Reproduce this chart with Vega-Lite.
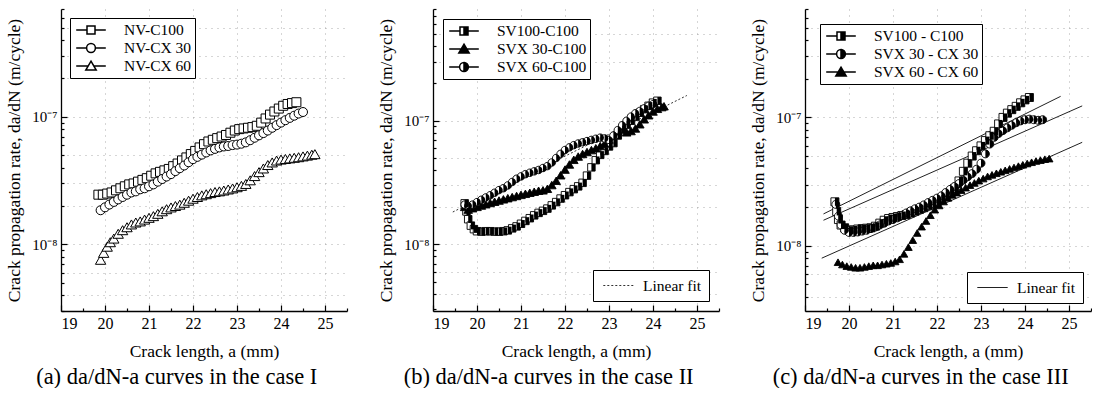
{
"$schema":"https://vega.github.io/schema/vega-lite/v6.json",
"background":"white",
"padding":{"left":5,"top":8,"right":0,"bottom":0},
"spacing":29,
"datasets":{
"a":[
{"s":"NV-C100","x":19.85,"y":2.45e-8},{"s":"NV-C100","x":19.95,"y":2.45e-8},{"s":"NV-C100","x":20.05,"y":2.5e-8},{"s":"NV-C100","x":20.15,"y":2.55e-8},{"s":"NV-C100","x":20.25,"y":2.65e-8},{"s":"NV-C100","x":20.35,"y":2.75e-8},{"s":"NV-C100","x":20.45,"y":2.85e-8},{"s":"NV-C100","x":20.55,"y":2.95e-8},{"s":"NV-C100","x":20.65,"y":3.0e-8},{"s":"NV-C100","x":20.75,"y":3.1e-8},{"s":"NV-C100","x":20.85,"y":3.2e-8},{"s":"NV-C100","x":20.95,"y":3.3e-8},{"s":"NV-C100","x":21.05,"y":3.45e-8},{"s":"NV-C100","x":21.15,"y":3.6e-8},{"s":"NV-C100","x":21.25,"y":3.7e-8},{"s":"NV-C100","x":21.35,"y":3.8e-8},{"s":"NV-C100","x":21.45,"y":3.9e-8},{"s":"NV-C100","x":21.55,"y":4.1e-8},{"s":"NV-C100","x":21.65,"y":4.3e-8},{"s":"NV-C100","x":21.75,"y":4.55e-8},{"s":"NV-C100","x":21.85,"y":4.8e-8},{"s":"NV-C100","x":21.95,"y":5.1e-8},{"s":"NV-C100","x":22.05,"y":5.4e-8},{"s":"NV-C100","x":22.15,"y":5.75e-8},{"s":"NV-C100","x":22.25,"y":6.1e-8},{"s":"NV-C100","x":22.35,"y":6.4e-8},{"s":"NV-C100","x":22.45,"y":6.6e-8},{"s":"NV-C100","x":22.55,"y":6.8e-8},{"s":"NV-C100","x":22.65,"y":7.0e-8},{"s":"NV-C100","x":22.75,"y":7.2e-8},{"s":"NV-C100","x":22.85,"y":7.5e-8},{"s":"NV-C100","x":22.95,"y":7.8e-8},{"s":"NV-C100","x":23.05,"y":8.0e-8},{"s":"NV-C100","x":23.15,"y":8.1e-8},{"s":"NV-C100","x":23.25,"y":8.2e-8},{"s":"NV-C100","x":23.35,"y":8.3e-8},{"s":"NV-C100","x":23.45,"y":8.5e-8},{"s":"NV-C100","x":23.55,"y":9.0e-8},{"s":"NV-C100","x":23.65,"y":9.7e-8},{"s":"NV-C100","x":23.75,"y":1.04e-7},{"s":"NV-C100","x":23.85,"y":1.1e-7},{"s":"NV-C100","x":23.95,"y":1.16e-7},{"s":"NV-C100","x":24.05,"y":1.22e-7},{"s":"NV-C100","x":24.15,"y":1.26e-7},{"s":"NV-C100","x":24.25,"y":1.28e-7},{"s":"NV-C100","x":24.35,"y":1.3e-7},
{"s":"NV-CX 30","x":19.9,"y":1.85e-8},{"s":"NV-CX 30","x":20.0,"y":1.95e-8},{"s":"NV-CX 30","x":20.1,"y":2.05e-8},{"s":"NV-CX 30","x":20.2,"y":2.15e-8},{"s":"NV-CX 30","x":20.3,"y":2.25e-8},{"s":"NV-CX 30","x":20.4,"y":2.35e-8},{"s":"NV-CX 30","x":20.5,"y":2.45e-8},{"s":"NV-CX 30","x":20.6,"y":2.55e-8},{"s":"NV-CX 30","x":20.7,"y":2.6e-8},{"s":"NV-CX 30","x":20.8,"y":2.7e-8},{"s":"NV-CX 30","x":20.9,"y":2.75e-8},{"s":"NV-CX 30","x":21.0,"y":2.85e-8},{"s":"NV-CX 30","x":21.1,"y":2.95e-8},{"s":"NV-CX 30","x":21.2,"y":3.1e-8},{"s":"NV-CX 30","x":21.3,"y":3.25e-8},{"s":"NV-CX 30","x":21.4,"y":3.4e-8},{"s":"NV-CX 30","x":21.5,"y":3.55e-8},{"s":"NV-CX 30","x":21.6,"y":3.75e-8},{"s":"NV-CX 30","x":21.7,"y":3.95e-8},{"s":"NV-CX 30","x":21.8,"y":4.15e-8},{"s":"NV-CX 30","x":21.9,"y":4.4e-8},{"s":"NV-CX 30","x":22.0,"y":4.65e-8},{"s":"NV-CX 30","x":22.1,"y":4.85e-8},{"s":"NV-CX 30","x":22.2,"y":5.05e-8},{"s":"NV-CX 30","x":22.3,"y":5.25e-8},{"s":"NV-CX 30","x":22.4,"y":5.45e-8},{"s":"NV-CX 30","x":22.5,"y":5.6e-8},{"s":"NV-CX 30","x":22.6,"y":5.75e-8},{"s":"NV-CX 30","x":22.7,"y":5.85e-8},{"s":"NV-CX 30","x":22.8,"y":5.9e-8},{"s":"NV-CX 30","x":22.9,"y":6.0e-8},{"s":"NV-CX 30","x":23.0,"y":6.05e-8},{"s":"NV-CX 30","x":23.1,"y":6.15e-8},{"s":"NV-CX 30","x":23.2,"y":6.3e-8},{"s":"NV-CX 30","x":23.3,"y":6.55e-8},{"s":"NV-CX 30","x":23.4,"y":6.85e-8},{"s":"NV-CX 30","x":23.5,"y":7.15e-8},{"s":"NV-CX 30","x":23.6,"y":7.45e-8},{"s":"NV-CX 30","x":23.7,"y":7.8e-8},{"s":"NV-CX 30","x":23.8,"y":8.2e-8},{"s":"NV-CX 30","x":23.9,"y":8.6e-8},{"s":"NV-CX 30","x":24.0,"y":9.0e-8},{"s":"NV-CX 30","x":24.1,"y":9.4e-8},{"s":"NV-CX 30","x":24.2,"y":9.8e-8},{"s":"NV-CX 30","x":24.3,"y":1.02e-7},{"s":"NV-CX 30","x":24.4,"y":1.06e-7},{"s":"NV-CX 30","x":24.5,"y":1.09e-7},
{"s":"NV-CX 60","x":19.9,"y":7.5e-9},{"s":"NV-CX 60","x":19.97,"y":8.5e-9},{"s":"NV-CX 60","x":20.05,"y":9.5e-9},{"s":"NV-CX 60","x":20.12,"y":1.03e-8},{"s":"NV-CX 60","x":20.2,"y":1.1e-8},{"s":"NV-CX 60","x":20.3,"y":1.2e-8},{"s":"NV-CX 60","x":20.4,"y":1.28e-8},{"s":"NV-CX 60","x":20.5,"y":1.35e-8},{"s":"NV-CX 60","x":20.6,"y":1.42e-8},{"s":"NV-CX 60","x":20.7,"y":1.47e-8},{"s":"NV-CX 60","x":20.8,"y":1.5e-8},{"s":"NV-CX 60","x":20.9,"y":1.55e-8},{"s":"NV-CX 60","x":21.0,"y":1.6e-8},{"s":"NV-CX 60","x":21.1,"y":1.65e-8},{"s":"NV-CX 60","x":21.2,"y":1.72e-8},{"s":"NV-CX 60","x":21.3,"y":1.8e-8},{"s":"NV-CX 60","x":21.4,"y":1.87e-8},{"s":"NV-CX 60","x":21.5,"y":1.93e-8},{"s":"NV-CX 60","x":21.6,"y":1.98e-8},{"s":"NV-CX 60","x":21.7,"y":2.03e-8},{"s":"NV-CX 60","x":21.8,"y":2.1e-8},{"s":"NV-CX 60","x":21.9,"y":2.18e-8},{"s":"NV-CX 60","x":22.0,"y":2.26e-8},{"s":"NV-CX 60","x":22.1,"y":2.33e-8},{"s":"NV-CX 60","x":22.2,"y":2.4e-8},{"s":"NV-CX 60","x":22.3,"y":2.45e-8},{"s":"NV-CX 60","x":22.4,"y":2.5e-8},{"s":"NV-CX 60","x":22.5,"y":2.55e-8},{"s":"NV-CX 60","x":22.6,"y":2.58e-8},{"s":"NV-CX 60","x":22.7,"y":2.62e-8},{"s":"NV-CX 60","x":22.8,"y":2.67e-8},{"s":"NV-CX 60","x":22.9,"y":2.72e-8},{"s":"NV-CX 60","x":23.0,"y":2.78e-8},{"s":"NV-CX 60","x":23.1,"y":2.85e-8},{"s":"NV-CX 60","x":23.2,"y":2.95e-8},{"s":"NV-CX 60","x":23.3,"y":3.15e-8},{"s":"NV-CX 60","x":23.4,"y":3.4e-8},{"s":"NV-CX 60","x":23.5,"y":3.65e-8},{"s":"NV-CX 60","x":23.6,"y":3.9e-8},{"s":"NV-CX 60","x":23.7,"y":4.15e-8},{"s":"NV-CX 60","x":23.8,"y":4.35e-8},{"s":"NV-CX 60","x":23.9,"y":4.5e-8},{"s":"NV-CX 60","x":24.0,"y":4.58e-8},{"s":"NV-CX 60","x":24.1,"y":4.63e-8},{"s":"NV-CX 60","x":24.2,"y":4.68e-8},{"s":"NV-CX 60","x":24.3,"y":4.73e-8},{"s":"NV-CX 60","x":24.4,"y":4.78e-8},{"s":"NV-CX 60","x":24.5,"y":4.85e-8},{"s":"NV-CX 60","x":24.6,"y":4.92e-8},{"s":"NV-CX 60","x":24.7,"y":5.0e-8},{"s":"NV-CX 60","x":24.77,"y":5.05e-8}
],
"b":[
{"s":"SV100-C100","x":19.72,"y":2.15e-8},{"s":"SV100-C100","x":19.76,"y":1.85e-8},{"s":"SV100-C100","x":19.8,"y":1.6e-8},{"s":"SV100-C100","x":19.86,"y":1.42e-8},{"s":"SV100-C100","x":19.93,"y":1.33e-8},{"s":"SV100-C100","x":20.0,"y":1.28e-8},{"s":"SV100-C100","x":20.1,"y":1.27e-8},{"s":"SV100-C100","x":20.2,"y":1.28e-8},{"s":"SV100-C100","x":20.3,"y":1.28e-8},{"s":"SV100-C100","x":20.4,"y":1.27e-8},{"s":"SV100-C100","x":20.5,"y":1.27e-8},{"s":"SV100-C100","x":20.6,"y":1.28e-8},{"s":"SV100-C100","x":20.7,"y":1.3e-8},{"s":"SV100-C100","x":20.8,"y":1.35e-8},{"s":"SV100-C100","x":20.9,"y":1.4e-8},{"s":"SV100-C100","x":21.0,"y":1.47e-8},{"s":"SV100-C100","x":21.1,"y":1.55e-8},{"s":"SV100-C100","x":21.2,"y":1.63e-8},{"s":"SV100-C100","x":21.3,"y":1.72e-8},{"s":"SV100-C100","x":21.4,"y":1.8e-8},{"s":"SV100-C100","x":21.5,"y":1.87e-8},{"s":"SV100-C100","x":21.6,"y":1.95e-8},{"s":"SV100-C100","x":21.7,"y":2.07e-8},{"s":"SV100-C100","x":21.8,"y":2.2e-8},{"s":"SV100-C100","x":21.9,"y":2.35e-8},{"s":"SV100-C100","x":22.0,"y":2.5e-8},{"s":"SV100-C100","x":22.1,"y":2.65e-8},{"s":"SV100-C100","x":22.2,"y":2.8e-8},{"s":"SV100-C100","x":22.3,"y":2.95e-8},{"s":"SV100-C100","x":22.4,"y":3.15e-8},{"s":"SV100-C100","x":22.5,"y":3.6e-8},{"s":"SV100-C100","x":22.6,"y":4.2e-8},{"s":"SV100-C100","x":22.7,"y":4.8e-8},{"s":"SV100-C100","x":22.8,"y":5.3e-8},{"s":"SV100-C100","x":22.9,"y":5.7e-8},{"s":"SV100-C100","x":23.0,"y":6.2e-8},{"s":"SV100-C100","x":23.1,"y":6.6e-8},{"s":"SV100-C100","x":23.2,"y":7.6e-8},{"s":"SV100-C100","x":23.3,"y":8.5e-8},{"s":"SV100-C100","x":23.4,"y":9.3e-8},{"s":"SV100-C100","x":23.5,"y":1.0e-7},{"s":"SV100-C100","x":23.6,"y":1.08e-7},{"s":"SV100-C100","x":23.7,"y":1.16e-7},{"s":"SV100-C100","x":23.8,"y":1.24e-7},{"s":"SV100-C100","x":23.9,"y":1.32e-7},{"s":"SV100-C100","x":24.0,"y":1.4e-7},{"s":"SV100-C100","x":24.1,"y":1.45e-7},
{"s":"SVX 30-C100","x":19.72,"y":2.0e-8},{"s":"SVX 30-C100","x":19.8,"y":1.9e-8},{"s":"SVX 30-C100","x":19.9,"y":1.95e-8},{"s":"SVX 30-C100","x":20.0,"y":2.0e-8},{"s":"SVX 30-C100","x":20.1,"y":2.05e-8},{"s":"SVX 30-C100","x":20.2,"y":2.1e-8},{"s":"SVX 30-C100","x":20.3,"y":2.15e-8},{"s":"SVX 30-C100","x":20.4,"y":2.2e-8},{"s":"SVX 30-C100","x":20.5,"y":2.25e-8},{"s":"SVX 30-C100","x":20.6,"y":2.3e-8},{"s":"SVX 30-C100","x":20.7,"y":2.35e-8},{"s":"SVX 30-C100","x":20.8,"y":2.4e-8},{"s":"SVX 30-C100","x":20.9,"y":2.45e-8},{"s":"SVX 30-C100","x":21.0,"y":2.5e-8},{"s":"SVX 30-C100","x":21.1,"y":2.55e-8},{"s":"SVX 30-C100","x":21.2,"y":2.6e-8},{"s":"SVX 30-C100","x":21.3,"y":2.65e-8},{"s":"SVX 30-C100","x":21.4,"y":2.7e-8},{"s":"SVX 30-C100","x":21.5,"y":2.72e-8},{"s":"SVX 30-C100","x":21.6,"y":2.8e-8},{"s":"SVX 30-C100","x":21.7,"y":3.0e-8},{"s":"SVX 30-C100","x":21.8,"y":3.25e-8},{"s":"SVX 30-C100","x":21.9,"y":3.6e-8},{"s":"SVX 30-C100","x":22.0,"y":4.0e-8},{"s":"SVX 30-C100","x":22.1,"y":4.4e-8},{"s":"SVX 30-C100","x":22.2,"y":4.8e-8},{"s":"SVX 30-C100","x":22.3,"y":5.1e-8},{"s":"SVX 30-C100","x":22.4,"y":5.35e-8},{"s":"SVX 30-C100","x":22.5,"y":5.55e-8},{"s":"SVX 30-C100","x":22.6,"y":5.75e-8},{"s":"SVX 30-C100","x":22.7,"y":5.95e-8},{"s":"SVX 30-C100","x":22.8,"y":6.2e-8},{"s":"SVX 30-C100","x":22.9,"y":6.5e-8},{"s":"SVX 30-C100","x":23.0,"y":7.0e-8},{"s":"SVX 30-C100","x":23.1,"y":7.6e-8},{"s":"SVX 30-C100","x":23.2,"y":8.2e-8},{"s":"SVX 30-C100","x":23.3,"y":8.5e-8},{"s":"SVX 30-C100","x":23.4,"y":8.0e-8},{"s":"SVX 30-C100","x":23.5,"y":8.2e-8},{"s":"SVX 30-C100","x":23.6,"y":8.6e-8},{"s":"SVX 30-C100","x":23.7,"y":9.3e-8},{"s":"SVX 30-C100","x":23.8,"y":1.02e-7},{"s":"SVX 30-C100","x":23.9,"y":1.1e-7},{"s":"SVX 30-C100","x":24.0,"y":1.18e-7},{"s":"SVX 30-C100","x":24.1,"y":1.24e-7},{"s":"SVX 30-C100","x":24.2,"y":1.28e-7},{"s":"SVX 30-C100","x":24.25,"y":1.3e-7},
{"s":"SVX 60-C100","x":19.72,"y":2.1e-8},{"s":"SVX 60-C100","x":19.8,"y":2.05e-8},{"s":"SVX 60-C100","x":19.9,"y":2.1e-8},{"s":"SVX 60-C100","x":20.0,"y":2.2e-8},{"s":"SVX 60-C100","x":20.1,"y":2.3e-8},{"s":"SVX 60-C100","x":20.2,"y":2.4e-8},{"s":"SVX 60-C100","x":20.3,"y":2.5e-8},{"s":"SVX 60-C100","x":20.4,"y":2.62e-8},{"s":"SVX 60-C100","x":20.5,"y":2.75e-8},{"s":"SVX 60-C100","x":20.6,"y":2.85e-8},{"s":"SVX 60-C100","x":20.7,"y":3.0e-8},{"s":"SVX 60-C100","x":20.8,"y":3.2e-8},{"s":"SVX 60-C100","x":20.9,"y":3.4e-8},{"s":"SVX 60-C100","x":21.0,"y":3.55e-8},{"s":"SVX 60-C100","x":21.1,"y":3.7e-8},{"s":"SVX 60-C100","x":21.2,"y":3.8e-8},{"s":"SVX 60-C100","x":21.3,"y":3.9e-8},{"s":"SVX 60-C100","x":21.4,"y":4.0e-8},{"s":"SVX 60-C100","x":21.5,"y":4.15e-8},{"s":"SVX 60-C100","x":21.6,"y":4.3e-8},{"s":"SVX 60-C100","x":21.7,"y":4.6e-8},{"s":"SVX 60-C100","x":21.8,"y":5.0e-8},{"s":"SVX 60-C100","x":21.9,"y":5.4e-8},{"s":"SVX 60-C100","x":22.0,"y":5.8e-8},{"s":"SVX 60-C100","x":22.1,"y":6.1e-8},{"s":"SVX 60-C100","x":22.2,"y":6.35e-8},{"s":"SVX 60-C100","x":22.3,"y":6.55e-8},{"s":"SVX 60-C100","x":22.4,"y":6.7e-8},{"s":"SVX 60-C100","x":22.5,"y":6.85e-8},{"s":"SVX 60-C100","x":22.6,"y":7.0e-8},{"s":"SVX 60-C100","x":22.7,"y":7.15e-8},{"s":"SVX 60-C100","x":22.8,"y":7.3e-8},{"s":"SVX 60-C100","x":22.9,"y":7.2e-8},{"s":"SVX 60-C100","x":23.0,"y":7.0e-8},{"s":"SVX 60-C100","x":23.1,"y":7.6e-8},{"s":"SVX 60-C100","x":23.2,"y":8.4e-8},{"s":"SVX 60-C100","x":23.3,"y":9.2e-8},{"s":"SVX 60-C100","x":23.4,"y":1.0e-7},{"s":"SVX 60-C100","x":23.5,"y":1.08e-7},{"s":"SVX 60-C100","x":23.6,"y":1.15e-7},{"s":"SVX 60-C100","x":23.7,"y":1.2e-7},{"s":"SVX 60-C100","x":23.8,"y":1.26e-7},{"s":"SVX 60-C100","x":23.9,"y":1.32e-7},{"s":"SVX 60-C100","x":24.0,"y":1.36e-7}
],
"bfit":[{"f":"Linear fit","x":19.45,"y":1.83e-8},{"f":"Linear fit","x":24.77,"y":1.6e-7}],
"c":[
{"s":"SV100 - C100","x":19.68,"y":2.2e-8},{"s":"SV100 - C100","x":19.72,"y":1.85e-8},{"s":"SV100 - C100","x":19.76,"y":1.6e-8},{"s":"SV100 - C100","x":19.82,"y":1.45e-8},{"s":"SV100 - C100","x":19.9,"y":1.38e-8},{"s":"SV100 - C100","x":20.0,"y":1.32e-8},{"s":"SV100 - C100","x":20.1,"y":1.33e-8},{"s":"SV100 - C100","x":20.2,"y":1.35e-8},{"s":"SV100 - C100","x":20.3,"y":1.36e-8},{"s":"SV100 - C100","x":20.4,"y":1.37e-8},{"s":"SV100 - C100","x":20.5,"y":1.38e-8},{"s":"SV100 - C100","x":20.6,"y":1.42e-8},{"s":"SV100 - C100","x":20.7,"y":1.5e-8},{"s":"SV100 - C100","x":20.8,"y":1.58e-8},{"s":"SV100 - C100","x":20.9,"y":1.63e-8},{"s":"SV100 - C100","x":21.0,"y":1.66e-8},{"s":"SV100 - C100","x":21.1,"y":1.69e-8},{"s":"SV100 - C100","x":21.2,"y":1.72e-8},{"s":"SV100 - C100","x":21.3,"y":1.75e-8},{"s":"SV100 - C100","x":21.4,"y":1.8e-8},{"s":"SV100 - C100","x":21.5,"y":1.86e-8},{"s":"SV100 - C100","x":21.6,"y":1.92e-8},{"s":"SV100 - C100","x":21.7,"y":1.98e-8},{"s":"SV100 - C100","x":21.8,"y":2.05e-8},{"s":"SV100 - C100","x":21.9,"y":2.13e-8},{"s":"SV100 - C100","x":22.0,"y":2.22e-8},{"s":"SV100 - C100","x":22.1,"y":2.32e-8},{"s":"SV100 - C100","x":22.2,"y":2.45e-8},{"s":"SV100 - C100","x":22.3,"y":2.6e-8},{"s":"SV100 - C100","x":22.4,"y":2.8e-8},{"s":"SV100 - C100","x":22.5,"y":3.2e-8},{"s":"SV100 - C100","x":22.6,"y":3.8e-8},{"s":"SV100 - C100","x":22.7,"y":4.4e-8},{"s":"SV100 - C100","x":22.8,"y":5.0e-8},{"s":"SV100 - C100","x":22.9,"y":5.5e-8},{"s":"SV100 - C100","x":23.0,"y":6.0e-8},{"s":"SV100 - C100","x":23.1,"y":6.6e-8},{"s":"SV100 - C100","x":23.2,"y":7.2e-8},{"s":"SV100 - C100","x":23.3,"y":7.8e-8},{"s":"SV100 - C100","x":23.4,"y":8.9e-8},{"s":"SV100 - C100","x":23.5,"y":1.0e-7},{"s":"SV100 - C100","x":23.6,"y":1.08e-7},{"s":"SV100 - C100","x":23.7,"y":1.15e-7},{"s":"SV100 - C100","x":23.8,"y":1.22e-7},{"s":"SV100 - C100","x":23.9,"y":1.3e-7},{"s":"SV100 - C100","x":24.0,"y":1.37e-7},{"s":"SV100 - C100","x":24.1,"y":1.43e-7},
{"s":"SVX 30 - CX 30","x":19.7,"y":2.1e-8},{"s":"SVX 30 - CX 30","x":19.76,"y":1.7e-8},{"s":"SVX 30 - CX 30","x":19.82,"y":1.45e-8},{"s":"SVX 30 - CX 30","x":19.9,"y":1.32e-8},{"s":"SVX 30 - CX 30","x":20.0,"y":1.27e-8},{"s":"SVX 30 - CX 30","x":20.1,"y":1.27e-8},{"s":"SVX 30 - CX 30","x":20.2,"y":1.28e-8},{"s":"SVX 30 - CX 30","x":20.3,"y":1.3e-8},{"s":"SVX 30 - CX 30","x":20.4,"y":1.32e-8},{"s":"SVX 30 - CX 30","x":20.5,"y":1.36e-8},{"s":"SVX 30 - CX 30","x":20.6,"y":1.4e-8},{"s":"SVX 30 - CX 30","x":20.7,"y":1.45e-8},{"s":"SVX 30 - CX 30","x":20.8,"y":1.5e-8},{"s":"SVX 30 - CX 30","x":20.9,"y":1.56e-8},{"s":"SVX 30 - CX 30","x":21.0,"y":1.6e-8},{"s":"SVX 30 - CX 30","x":21.1,"y":1.65e-8},{"s":"SVX 30 - CX 30","x":21.2,"y":1.72e-8},{"s":"SVX 30 - CX 30","x":21.3,"y":1.8e-8},{"s":"SVX 30 - CX 30","x":21.4,"y":1.87e-8},{"s":"SVX 30 - CX 30","x":21.5,"y":1.94e-8},{"s":"SVX 30 - CX 30","x":21.6,"y":2.0e-8},{"s":"SVX 30 - CX 30","x":21.7,"y":2.08e-8},{"s":"SVX 30 - CX 30","x":21.8,"y":2.17e-8},{"s":"SVX 30 - CX 30","x":21.9,"y":2.26e-8},{"s":"SVX 30 - CX 30","x":22.0,"y":2.35e-8},{"s":"SVX 30 - CX 30","x":22.1,"y":2.45e-8},{"s":"SVX 30 - CX 30","x":22.2,"y":2.6e-8},{"s":"SVX 30 - CX 30","x":22.3,"y":2.75e-8},{"s":"SVX 30 - CX 30","x":22.4,"y":2.9e-8},{"s":"SVX 30 - CX 30","x":22.5,"y":3.05e-8},{"s":"SVX 30 - CX 30","x":22.6,"y":3.25e-8},{"s":"SVX 30 - CX 30","x":22.7,"y":3.45e-8},{"s":"SVX 30 - CX 30","x":22.8,"y":3.65e-8},{"s":"SVX 30 - CX 30","x":22.9,"y":3.95e-8},{"s":"SVX 30 - CX 30","x":23.0,"y":4.4e-8},{"s":"SVX 30 - CX 30","x":23.1,"y":5.2e-8},{"s":"SVX 30 - CX 30","x":23.2,"y":6.2e-8},{"s":"SVX 30 - CX 30","x":23.3,"y":7.0e-8},{"s":"SVX 30 - CX 30","x":23.4,"y":7.5e-8},{"s":"SVX 30 - CX 30","x":23.5,"y":7.9e-8},{"s":"SVX 30 - CX 30","x":23.6,"y":8.3e-8},{"s":"SVX 30 - CX 30","x":23.7,"y":8.7e-8},{"s":"SVX 30 - CX 30","x":23.8,"y":9.1e-8},{"s":"SVX 30 - CX 30","x":23.9,"y":9.4e-8},{"s":"SVX 30 - CX 30","x":24.0,"y":9.6e-8},{"s":"SVX 30 - CX 30","x":24.1,"y":9.7e-8},{"s":"SVX 30 - CX 30","x":24.2,"y":9.6e-8},{"s":"SVX 30 - CX 30","x":24.3,"y":9.5e-8},{"s":"SVX 30 - CX 30","x":24.4,"y":9.6e-8},
{"s":"SVX 60 - CX 60","x":19.75,"y":7.4e-9},{"s":"SVX 60 - CX 60","x":19.85,"y":7.1e-9},{"s":"SVX 60 - CX 60","x":19.95,"y":6.9e-9},{"s":"SVX 60 - CX 60","x":20.05,"y":6.8e-9},{"s":"SVX 60 - CX 60","x":20.15,"y":6.7e-9},{"s":"SVX 60 - CX 60","x":20.25,"y":6.7e-9},{"s":"SVX 60 - CX 60","x":20.35,"y":6.8e-9},{"s":"SVX 60 - CX 60","x":20.45,"y":6.9e-9},{"s":"SVX 60 - CX 60","x":20.55,"y":7.0e-9},{"s":"SVX 60 - CX 60","x":20.65,"y":7.0e-9},{"s":"SVX 60 - CX 60","x":20.75,"y":7.1e-9},{"s":"SVX 60 - CX 60","x":20.85,"y":7.2e-9},{"s":"SVX 60 - CX 60","x":20.95,"y":7.3e-9},{"s":"SVX 60 - CX 60","x":21.05,"y":7.5e-9},{"s":"SVX 60 - CX 60","x":21.15,"y":7.8e-9},{"s":"SVX 60 - CX 60","x":21.25,"y":8.6e-9},{"s":"SVX 60 - CX 60","x":21.35,"y":9.7e-9},{"s":"SVX 60 - CX 60","x":21.45,"y":1.1e-8},{"s":"SVX 60 - CX 60","x":21.55,"y":1.25e-8},{"s":"SVX 60 - CX 60","x":21.65,"y":1.4e-8},{"s":"SVX 60 - CX 60","x":21.75,"y":1.55e-8},{"s":"SVX 60 - CX 60","x":21.85,"y":1.72e-8},{"s":"SVX 60 - CX 60","x":21.95,"y":1.9e-8},{"s":"SVX 60 - CX 60","x":22.05,"y":2.05e-8},{"s":"SVX 60 - CX 60","x":22.15,"y":2.2e-8},{"s":"SVX 60 - CX 60","x":22.25,"y":2.35e-8},{"s":"SVX 60 - CX 60","x":22.35,"y":2.48e-8},{"s":"SVX 60 - CX 60","x":22.45,"y":2.58e-8},{"s":"SVX 60 - CX 60","x":22.55,"y":2.7e-8},{"s":"SVX 60 - CX 60","x":22.65,"y":2.82e-8},{"s":"SVX 60 - CX 60","x":22.75,"y":2.95e-8},{"s":"SVX 60 - CX 60","x":22.85,"y":3.07e-8},{"s":"SVX 60 - CX 60","x":22.95,"y":3.2e-8},{"s":"SVX 60 - CX 60","x":23.05,"y":3.32e-8},{"s":"SVX 60 - CX 60","x":23.15,"y":3.45e-8},{"s":"SVX 60 - CX 60","x":23.25,"y":3.55e-8},{"s":"SVX 60 - CX 60","x":23.35,"y":3.65e-8},{"s":"SVX 60 - CX 60","x":23.45,"y":3.75e-8},{"s":"SVX 60 - CX 60","x":23.55,"y":3.85e-8},{"s":"SVX 60 - CX 60","x":23.65,"y":3.95e-8},{"s":"SVX 60 - CX 60","x":23.75,"y":4.05e-8},{"s":"SVX 60 - CX 60","x":23.85,"y":4.15e-8},{"s":"SVX 60 - CX 60","x":23.95,"y":4.25e-8},{"s":"SVX 60 - CX 60","x":24.05,"y":4.35e-8},{"s":"SVX 60 - CX 60","x":24.15,"y":4.45e-8},{"s":"SVX 60 - CX 60","x":24.25,"y":4.55e-8},{"s":"SVX 60 - CX 60","x":24.35,"y":4.62e-8},{"s":"SVX 60 - CX 60","x":24.45,"y":4.7e-8},{"s":"SVX 60 - CX 60","x":24.55,"y":4.75e-8}
],
"cfit":[{"g":1,"f":"Linear fit","x":19.42,"y":1.77e-8},{"g":1,"f":"Linear fit","x":24.81,"y":1.46e-7},{"g":2,"f":"Linear fit","x":19.42,"y":1.58e-8},{"g":2,"f":"Linear fit","x":25.3,"y":1.23e-7},{"g":3,"f":"Linear fit","x":19.38,"y":8.0e-9},{"g":3,"f":"Linear fit","x":25.3,"y":6.4e-8}]
},
"hconcat":[
{
"width":286,"height":302,
"title":{"text":"(a) da/dN-a curves in the case I","orient":"bottom","anchor":"middle","frame":"bounds","fontSize":22.5,"font":"Liberation Serif","fontWeight":"normal","color":"black","offset":6},
"encoding":{
"x":{"field":"x","type":"quantitative","scale":{"domain":[19,25.5],"nice":false,"zero":false},"axis":{"title":"Crack length, a (mm)","values":[19,19.5,20,20.5,21,21.5,22,22.5,23,23.5,24,24.5,25,25.5],"labelExpr":"datum.value % 1 == 0 ? format(datum.value, 'd') : ''","tickSize":{"condition":{"test":"datum.value % 1 == 0","value":-6},"value":-3},"grid":true,"gridOpacity":{"condition":{"test":"datum.value % 1 == 0 && datum.value > 19","value":0.8},"value":0},"labelPadding":10,"titlePadding":11}},
"y":{"field":"y","type":"quantitative","scale":{"type":"log","domain":[3e-9,7e-7],"nice":false},"axis":{"title":"Crack propagation rate, da/dN (m/cycle)","values":[3e-9,4e-9,5e-9,6e-9,7e-9,8e-9,9e-9,1e-8,2e-8,3e-8,4e-8,5e-8,6e-8,7e-8,8e-8,9e-8,1e-7,2e-7,3e-7,4e-7,5e-7,6e-7,7e-7],"labelExpr":"datum.value == 1e-8 ? '10⁻⁸' : datum.value == 1e-7 ? '10⁻⁷' : ''","tickSize":{"condition":{"test":"datum.value == 1e-8 || datum.value == 1e-7","value":-6},"value":-3},"grid":true,"gridOpacity":{"condition":{"test":"indexof([4e-9,6e-9,1e-8,2e-8,3e-8,5e-8,1e-7,2e-7,3e-7,5e-7], datum.value) >= 0","value":0.8},"value":0},"labelPadding":10,"titlePadding":8}}
},
"layer":[
{"data":{"name":"a"},"mark":{"type":"point","filled":true,"fill":"white","stroke":"black","strokeWidth":1,"size":81,"opacity":1},
"encoding":{"shape":{"field":"s","type":"nominal","scale":{"domain":["NV-C100","NV-CX 30","NV-CX 60"],"range":["M-1,-1H1V1H-1Z","M-1,0A1,1 0 1,1 1,0A1,1 0 1,1 -1,0Z","M0,-1.1L1.15,0.9H-1.15Z"]},"legend":null}}},
{"data":{"name":"a"},"mark":{"type":"point","filled":true,"fill":"white","stroke":"black","strokeWidth":0,"size":0.0001,"opacity":1},
"encoding":{"shape":{"field":"s","type":"nominal","scale":{"domain":["NV-C100","NV-CX 30","NV-CX 60"],"range":["M-1.85,0H-0.5M0.5,0H1.85M-0.5,-0.5H0.5V0.5H-0.5Z","M-1.85,0H-0.55M0.55,0H1.85M-0.55,0A0.55,0.55 0 1,1 0.55,0A0.55,0.55 0 1,1 -0.55,0Z","M-1.85,0H-0.35M0.35,0H1.85M0,-0.6L0.65,0.5H-0.65Z"]},
"legend":{"title":null,"orient":"top-left","offset":9,"symbolSize":256,"encode":{"symbols":{"update":{"fill":{"value":"white"},"stroke":{"value":"black"},"strokeWidth":{"value":1},"size":{"value":256},"opacity":{"value":1}}}}}}}}
],
"resolve":{"scale":{"shape":"independent"}}
},
{
"width":286,"height":302,
"title":{"text":"(b) da/dN-a curves in the case II","orient":"bottom","anchor":"middle","frame":"bounds","fontSize":22.5,"font":"Liberation Serif","fontWeight":"normal","color":"black","offset":6},
"encoding":{
"x":{"field":"x","type":"quantitative","scale":{"domain":[19,25.5],"nice":false,"zero":false},"axis":{"title":"Crack length, a (mm)","values":[19,19.5,20,20.5,21,21.5,22,22.5,23,23.5,24,24.5,25,25.5],"labelExpr":"datum.value % 1 == 0 ? format(datum.value, 'd') : ''","tickSize":{"condition":{"test":"datum.value % 1 == 0","value":-6},"value":-3},"grid":true,"gridOpacity":{"condition":{"test":"datum.value % 1 == 0 && datum.value > 19","value":0.8},"value":0},"labelPadding":10,"titlePadding":11}},
"y":{"field":"y","type":"quantitative","scale":{"type":"log","domain":[2.9e-9,8e-7],"nice":false},"axis":{"title":"Crack propagation rate, da/dN (m/cycle)","values":[3e-9,4e-9,5e-9,6e-9,7e-9,8e-9,9e-9,1e-8,2e-8,3e-8,4e-8,5e-8,6e-8,7e-8,8e-8,9e-8,1e-7,2e-7,3e-7,4e-7,5e-7,6e-7,7e-7,8e-7],"labelExpr":"datum.value == 1e-8 ? '10⁻⁸' : datum.value == 1e-7 ? '10⁻⁷' : ''","tickSize":{"condition":{"test":"datum.value == 1e-8 || datum.value == 1e-7","value":-6},"value":-3},"grid":true,"gridOpacity":{"condition":{"test":"indexof([4e-9,6e-9,1e-8,2e-8,3e-8,5e-8,1e-7,3e-7,5e-7], datum.value) >= 0","value":0.8},"value":0},"labelPadding":10,"titlePadding":8}}
},
"layer":[
{"data":{"name":"bfit"},"mark":{"type":"line","strokeDash":[2,2],"strokeWidth":1},
"encoding":{"color":{"field":"f","type":"nominal","scale":{"domain":["Linear fit"],"range":["#333333"]},"legend":{"title":null,"orient":"bottom-right","offset":10,"symbolType":"M-1.9,0H1.9","symbolSize":256,"symbolDash":[2,2],"symbolStrokeWidth":1,"labelOffset":16,"symbolOffset":10,"padding":7}}}},
{"data":{"name":"b"},"mark":{"type":"point","filled":true,"stroke":"black","strokeWidth":0.9,"size":56,"opacity":1},
"encoding":{"shape":{"field":"s","type":"nominal","scale":{"domain":["SV100-C100","SVX 30-C100","SVX 60-C100"],"range":["M-1,-1H1V1H-1Z","M0,-1.1L1.15,0.9H-1.15Z","M-1,0A1,1 0 1,1 1,0A1,1 0 1,1 -1,0Z"]},"legend":null},
"fill":{"field":"s","type":"nominal","scale":{"domain":["SV100-C100","SVX 30-C100","SVX 60-C100"],"range":["white","black","white"]},"legend":null}}},
{"data":{"name":"b"},"transform":[{"filter":"datum.s != 'SVX 30-C100'"}],"mark":{"type":"point","filled":true,"fill":"black","strokeWidth":0,"size":56,"opacity":1},
"encoding":{"shape":{"field":"s","type":"nominal","scale":{"domain":["SV100-C100","SVX 60-C100"],"range":["M0,-1H1V1H0Z","M0,-1A1,1 0 0,1 0,1Z"]},"legend":null}}},
{"data":{"name":"b"},"mark":{"type":"point","filled":true,"fill":"black","stroke":"black","strokeWidth":0,"size":0.0001,"opacity":1},
"encoding":{"shape":{"field":"s","type":"nominal","scale":{"domain":["SV100-C100","SVX 30-C100","SVX 60-C100"],"range":["M-1.85,0H-0.5M0.5,0H1.85M-0.5,-0.5H0.5V0.5H-0.5ZM-0.5,-0.5V0.5H0V-0.5Z","M-1.85,0H-0.35M0.35,0H1.85M0,-0.6L0.65,0.5H-0.65Z","M-1.85,0H-0.55M0.55,0H1.85M-0.55,0A0.55,0.55 0 0,1 0.55,0A0.55,0.55 0 0,1 -0.55,0ZM0,-0.55A0.55,0.55 0 0,0 0,0.55Z"]},
"legend":{"title":null,"orient":"top-left","offset":10,"symbolSize":256,"encode":{"symbols":{"update":{"fill":{"value":"black"},"stroke":{"value":"black"},"strokeWidth":{"value":1},"size":{"value":256},"opacity":{"value":1}}}}}}}}
],
"resolve":{"scale":{"shape":"independent"}}
},
{
"width":286,"height":302,
"title":{"text":"(c) da/dN-a curves in the case III","orient":"bottom","anchor":"middle","frame":"bounds","fontSize":22.5,"font":"Liberation Serif","fontWeight":"normal","color":"black","offset":6},
"encoding":{
"x":{"field":"x","type":"quantitative","scale":{"domain":[19,25.5],"nice":false,"zero":false},"axis":{"title":"Crack length, a (mm)","values":[19,19.5,20,20.5,21,21.5,22,22.5,23,23.5,24,24.5,25,25.5],"labelExpr":"datum.value % 1 == 0 ? format(datum.value, 'd') : ''","tickSize":{"condition":{"test":"datum.value % 1 == 0","value":-6},"value":-3},"grid":true,"gridOpacity":{"condition":{"test":"datum.value % 1 == 0 && datum.value > 19","value":0.8},"value":0},"labelPadding":10,"titlePadding":11}},
"y":{"field":"y","type":"quantitative","scale":{"type":"log","domain":[3.1e-9,7e-7],"nice":false},"axis":{"title":"Crack propagation rate, da/dN (m/cycle)","values":[4e-9,5e-9,6e-9,7e-9,8e-9,9e-9,1e-8,2e-8,3e-8,4e-8,5e-8,6e-8,7e-8,8e-8,9e-8,1e-7,2e-7,3e-7,4e-7,5e-7,6e-7,7e-7],"labelExpr":"datum.value == 1e-8 ? '10⁻⁸' : datum.value == 1e-7 ? '10⁻⁷' : ''","tickSize":{"condition":{"test":"datum.value == 1e-8 || datum.value == 1e-7","value":-6},"value":-3},"grid":true,"gridOpacity":{"condition":{"test":"indexof([4e-9,6e-9,1e-8,2e-8,3e-8,5e-8,1e-7,3e-7,5e-7], datum.value) >= 0","value":0.8},"value":0},"labelPadding":10,"titlePadding":8}}
},
"layer":[
{"data":{"name":"cfit"},"mark":{"type":"line","strokeWidth":1},
"encoding":{"detail":{"field":"g","type":"nominal"},"color":{"field":"f","type":"nominal","scale":{"domain":["Linear fit"],"range":["#222222"]},"legend":{"title":null,"orient":"bottom-right","offset":8,"symbolType":"M-1.9,0H1.9","symbolSize":256,"symbolStrokeWidth":1,"labelOffset":16,"symbolOffset":10,"padding":7}}}},
{"data":{"name":"c"},"mark":{"type":"point","filled":true,"stroke":"black","strokeWidth":0.9,"size":64,"opacity":1},
"encoding":{"shape":{"field":"s","type":"nominal","scale":{"domain":["SV100 - C100","SVX 30 - CX 30","SVX 60 - CX 60"],"range":["M-1,-1H1V1H-1Z","M-1,0A1,1 0 1,1 1,0A1,1 0 1,1 -1,0Z","M0,-0.9L0.95,0.75H-0.95Z"]},"legend":null},
"fill":{"field":"s","type":"nominal","scale":{"domain":["SV100 - C100","SVX 30 - CX 30","SVX 60 - CX 60"],"range":["white","white","black"]},"legend":null}}},
{"data":{"name":"c"},"transform":[{"filter":"datum.s != 'SVX 60 - CX 60'"}],"mark":{"type":"point","filled":true,"fill":"black","strokeWidth":0,"size":64,"opacity":1},
"encoding":{"shape":{"field":"s","type":"nominal","scale":{"domain":["SV100 - C100","SVX 30 - CX 30"],"range":["M0,-1H1V1H0Z","M0,-1A1,1 0 0,1 0,1Z"]},"legend":null}}},
{"data":{"name":"c"},"mark":{"type":"point","filled":true,"fill":"black","stroke":"black","strokeWidth":0,"size":0.0001,"opacity":1},
"encoding":{"shape":{"field":"s","type":"nominal","scale":{"domain":["SV100 - C100","SVX 30 - CX 30","SVX 60 - CX 60"],"range":["M-1.85,0H-0.5M0.5,0H1.85M-0.5,-0.5H0.5V0.5H-0.5ZM-0.5,-0.5V0.5H0V-0.5Z","M-1.85,0H-0.55M0.55,0H1.85M-0.55,0A0.55,0.55 0 0,1 0.55,0A0.55,0.55 0 0,1 -0.55,0ZM0,-0.55A0.55,0.55 0 0,0 0,0.55Z","M-1.85,0H-0.35M0.35,0H1.85M0,-0.6L0.65,0.5H-0.65Z"]},
"legend":{"title":null,"orient":"top-left","offset":15,"symbolSize":256,"encode":{"symbols":{"update":{"fill":{"value":"black"},"stroke":{"value":"black"},"strokeWidth":{"value":1},"size":{"value":256},"opacity":{"value":1}}}}}}}}
],
"resolve":{"scale":{"shape":"independent"}}
}
],
"resolve":{"scale":{"x":"independent","y":"independent","shape":"independent","color":"independent","fill":"independent"}},
"config":{
"view":{"stroke":null},
"font":"Liberation Serif",
"axis":{"labelFont":"Liberation Serif","titleFont":"Liberation Serif","labelFontSize":16,"titleFontSize":17.5,"titleFontWeight":"normal","labelColor":"black","titleColor":"black","domainColor":"black","tickColor":"black","domainWidth":1.3,"tickWidth":1.2,"gridColor":"#999999","gridDash":[1,5],"gridWidth":1},
"axisY":{"labelFontSize":15},
"legend":{"labelFont":"Liberation Serif","labelFontSize":15.5,"labelColor":"black","strokeColor":"black","fillColor":"white","padding":3,"titlePadding":0,"rowPadding":0,"symbolOffset":9,"labelOffset":24}
}
}
